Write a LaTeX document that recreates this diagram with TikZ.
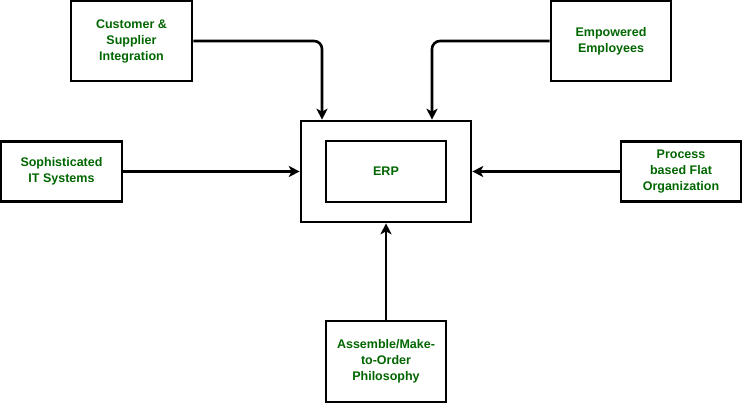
\documentclass[tikz,border=0pt]{standalone}
\usepackage{fontspec}
\setmainfont{Liberation Sans}
\usetikzlibrary{arrows.meta}
\definecolor{txtgreen}{HTML}{006600}
\begin{document}
\begin{tikzpicture}[x=1pt,y=-1pt,
  box/.style={draw=black, line width=2.6pt, fill=white, inner sep=0pt, align=center,
    font=\fontsize{12.5}{16}\selectfont\bfseries, text=txtgreen},
  arr/.style={draw=black, line width=2.6pt, -{Stealth[length=11pt,width=11pt,inset=3pt]}, rounded corners=8pt}]
\useasboundingbox (0,0) rectangle (743,403);
\node[box, minimum width=121, minimum height=80] (cust) at (131.5,41) {Customer \&\\Supplier\\Integration};
\node[box, minimum width=120, minimum height=80] (emp) at (611,41) {Empowered\\Employees};
\node[box, minimum width=121, minimum height=60] (soph) at (61.5,171.5) {Sophisticated\\IT Systems};
\node[box, minimum width=120, minimum height=60] (proc) at (681,171.5) {Process\\based Flat\\Organization};
\node[box, minimum width=170, minimum height=101] (outer) at (386,171.5) {};
\node[box, minimum width=120, minimum height=61] (erp) at (386,171.5) {ERP};
\node[box, minimum width=120, minimum height=81] (asm) at (386,361.5) {Assemble/Make-\\to-Order\\Philosophy};
\draw[arr] (cust.east) -| ([xshift=-64]outer.north);
\draw[arr] (emp.west) -| ([xshift=46]outer.north);
\draw[arr] (soph.east) -- (outer.west);
\draw[arr] (proc.west) -- (outer.east);
\draw[arr] (asm.north) -- (outer.south);
\end{tikzpicture}
\end{document}
